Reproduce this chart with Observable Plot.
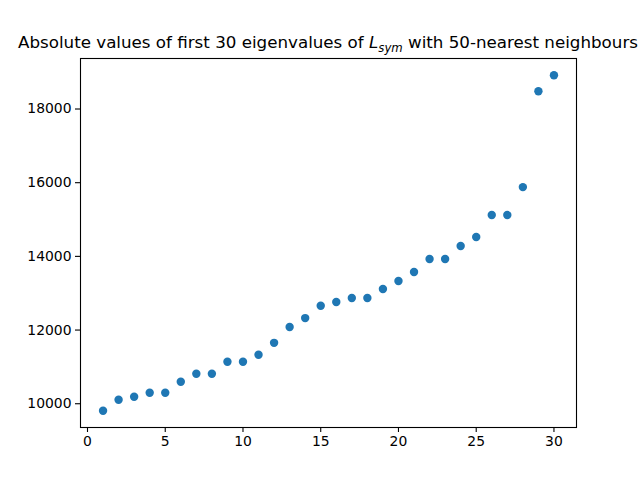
<!DOCTYPE html>
<html>
<head>
<meta charset="utf-8">
<script src="https://cdn.jsdelivr.net/npm/d3@7"></script>
<script src="https://cdn.jsdelivr.net/npm/@observablehq/plot@0.6"></script>
<style>
  html, body { margin: 0; padding: 0; background: #fff; overflow: hidden; }
  #chart { width: 640px; height: 480px; }
</style>
</head>
<body>
<div id="chart"></div>
<script>
const index = d3.range(1, 31);
const eigenvalues = [
  9810, 10108, 10190, 10300, 10300, 10596, 10813, 10813, 11138, 11138,
  11328, 11653, 12081, 12325, 12660, 12760, 12870, 12870, 13116, 13333,
  13577, 13930, 13930, 14280, 14526, 15122, 15122, 15880, 18482, 18916
];
const xTicks = [0, 5, 10, 15, 20, 25, 30];
const yTicks = [10000, 12000, 14000, 16000, 18000];
const titleMain = "Absolute values of first 30 eigenvalues of ";
const titleSym = "L";
const titleSub = "sym";
const titleEnd = " with 50-nearest neighbours";

const data = index.map((k, i) => ({k, v: eigenvalues[i]}));

const plot = Plot.plot({
  width: 640,
  height: 480,
  marginLeft: 80,
  marginRight: 64,
  marginTop: 58,
  marginBottom: 53,
  style: {fontFamily: "DejaVu Sans", fontSize: "13.9px", color: "#000", background: "#fff"},
  x: {domain: [-0.45, 31.45]},
  y: {domain: [9355, 19371]},
  marks: [
    Plot.frame({stroke: "#000", strokeWidth: 1.1}),
    Plot.axisX({ticks: xTicks, tickSize: 5, tickPadding: 4, tickFormat: d => String(d), label: null, strokeWidth: 1.1}),
    Plot.axisY({ticks: yTicks, tickSize: 5, tickPadding: 4, tickFormat: d => String(d), label: null, strokeWidth: 1.1}),
    Plot.dot(data, {x: "k", y: "v", r: 4.2, fill: "#1f77b4", stroke: "none"})
  ]
});

const svg = d3.select(plot);
const t = svg.append("text")
  .attr("x", 328)
  .attr("y", 48)
  .attr("text-anchor", "middle")
  .attr("font-family", "DejaVu Sans")
  .attr("font-size", "16.7px")
  .attr("fill", "#000");
t.append("tspan").text(titleMain);
t.append("tspan").attr("font-style", "italic").text(titleSym);
t.append("tspan").attr("font-style", "italic").attr("font-size", "11.7px").attr("dy", 4).text(titleSub);
t.append("tspan").attr("dy", -4).text(titleEnd);

document.getElementById("chart").appendChild(plot);
</script>
</body>
</html>
